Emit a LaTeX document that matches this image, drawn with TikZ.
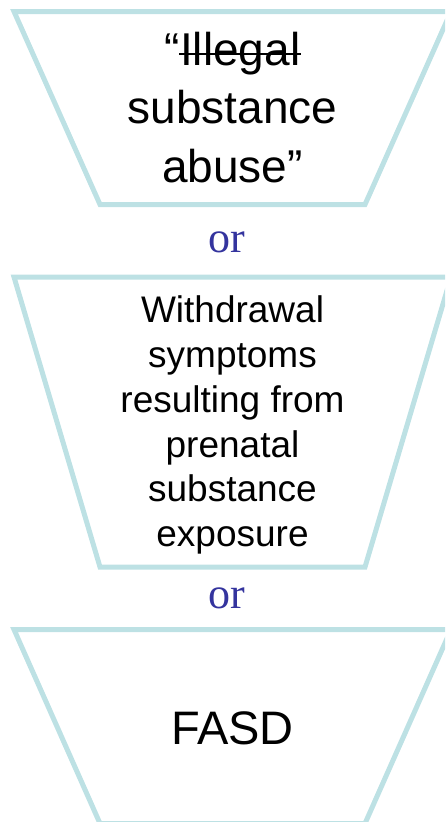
\documentclass[tikz,border=0pt]{standalone}
\usepackage{fontspec}
\setmainfont{Liberation Sans}
\newfontfamily\orfont{Liberation Serif}
\definecolor{funnel}{RGB}{189,225,228}
\definecolor{ortext}{RGB}{52,52,158}
\newcommand\strikeword[1]{\setbox0\hbox{#1}\rlap{\kern-1pt\rule[9.8pt]{\dimexpr\wd0+2pt\relax}{2.6pt}}\box0}
\tikzset{
  funnelbox/.style={draw=funnel, line width=5pt, line join=miter},
  maintext/.style={align=center, inner sep=0pt, text=black},
  ortxt/.style={inner sep=0pt, text=ortext, font=\orfont\fontsize{44}{44}\selectfont},
}
\begin{document}
\begin{tikzpicture}[x=1pt,y=-1pt]
\useasboundingbox (0,0) rectangle (445,822);
\clip (0,0) rectangle (445,822);
% funnels
\draw[funnelbox] (14,11.5) coordinate (a1) -- (451,11.5) -- (365,204.5) -- (100,204.5) -- cycle;
\draw[funnelbox] (14,277) coordinate (a2) -- (451,277) -- (365,567) -- (100,567) -- cycle;
\draw[funnelbox] (14,629.5) coordinate (a3) -- (451,629.5) -- (365,823.5) -- (100,823.5) -- cycle;
% texts
\node[maintext, anchor=base, font=\fontsize{46}{58.5}\selectfont] (t1) at (232.5,182)
  {“\strikeword{Illegal}\\substance\\abuse”};
\node[maintext, anchor=base, font=\fontsize{37}{44.8}\selectfont] (t2) at (232.5,546.7)
  {Withdrawal\\symptoms\\resulting from\\prenatal\\substance\\exposure};
\node[maintext, anchor=base, font=\fontsize{47}{47}\selectfont] (t3) at (232.5,744) {FASD};
\node[ortxt, anchor=base] (or1) at (226.5,252) {or};
\node[ortxt, anchor=base] (or2) at (226.5,608) {or};
\end{tikzpicture}
\end{document}
